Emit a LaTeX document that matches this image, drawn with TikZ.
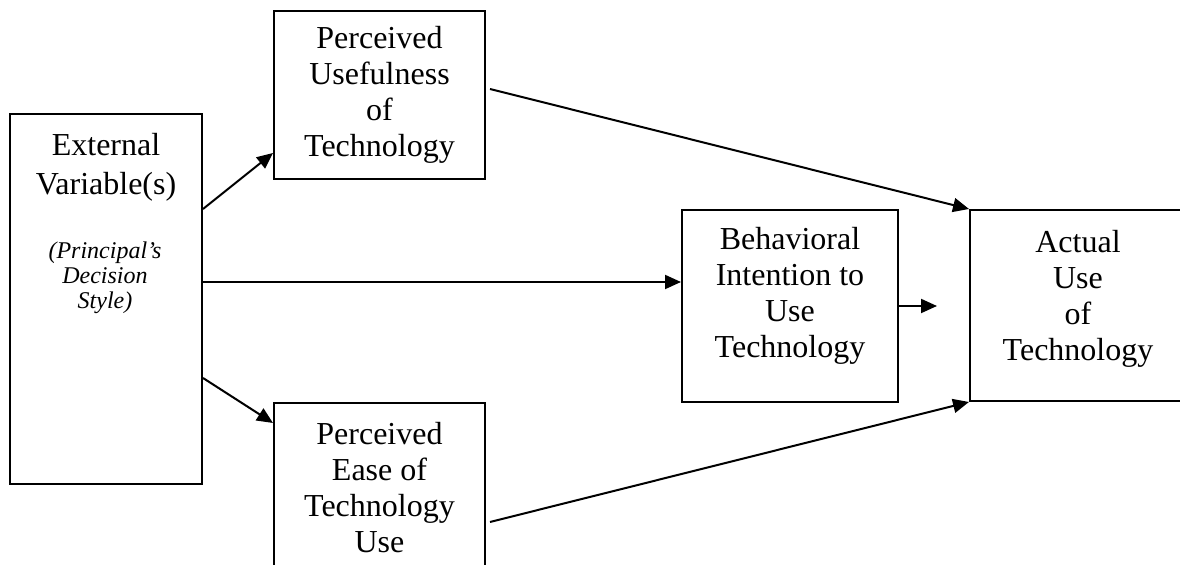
\documentclass[tikz,border=0pt]{standalone}
\usepackage{fontspec}
\setmainfont{Liberation Serif}
\usetikzlibrary{arrows.meta,positioning,calc}

\tikzset{
  tambox/.style={draw,line width=1pt,align=center,inner sep=0pt,
    font=\fontsize{16}{18}\selectfont},
  tamarrow/.style={line width=1pt,-{Triangle[length=8pt,width=7pt]}}
}

\begin{document}
\begin{tikzpicture}[x=0.5pt,y=-0.5pt]
  \clip (0,0) rectangle (1180,565);
  % boxes
  \node[tambox,anchor=north west,minimum width=96pt,minimum height=185pt] (ext) at (9,113) {};
  \node[anchor=north,align=center,inner sep=0pt,font=\fontsize{16}{19.5}\selectfont]
     (extname) at ([yshift=-10pt]ext.north) {External\\Variable(s)};
  \node[anchor=north,align=center,inner sep=0pt,font=\fontsize{12}{12.5}\selectfont\itshape]
     (extnote) at (105,241) {(Principal's\\Decision\\Style)};
  \node[tambox,anchor=north west,minimum width=105.5pt,minimum height=84pt] (pu) at (273,10)
     {Perceived\\Usefulness\\of\\Technology};
  \node[tambox,anchor=north west,minimum width=105.5pt,minimum height=85pt] (peou) at (273,402)
     {Perceived\\Ease of\\Technology\\Use};
  \node[tambox,anchor=north west,minimum width=108pt,minimum height=96pt,text depth=13.5pt] (bi) at (681,209)
     {Behavioral\\Intention to\\Use\\Technology};
  \node[tambox,anchor=north west,minimum width=108pt,minimum height=95.5pt,text depth=10.5pt] (au) at (969,209)
     {Actual\\Use\\of\\Technology};
  % connectors
  \draw[tamarrow] ([yshift=45pt]ext.east) -- ([yshift=-29pt]pu.west);
  \draw[tamarrow] ([yshift=8.5pt]ext.east) -- ([yshift=8.5pt]ext.east -| bi.west);
  \draw[tamarrow] ([yshift=-39.5pt]ext.east) -- ([yshift=-10.5pt]peou.north west);
  \draw[tamarrow] ([xshift=2pt,yshift=3pt]pu.east) -- (au.north west);
  \draw[tamarrow] ([xshift=2pt,yshift=-17pt]peou.east) -- (au.south west);
  \coordinate (biend) at ([xshift=19pt]bi.east);
  \draw[tamarrow] (bi.east) -- (biend);
\end{tikzpicture}
\end{document}
